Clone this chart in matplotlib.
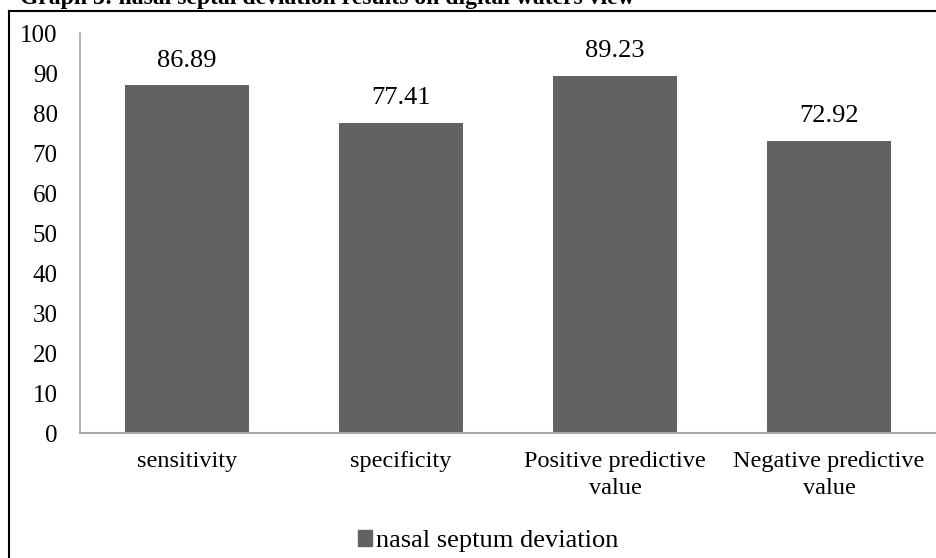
import numpy as np
import matplotlib.pyplot as plt
from matplotlib.lines import Line2D

categories = ['sensitivity', 'specificity', 'Positive predictive\nvalue', 'Negative predictive\nvalue']
values = [86.89, 77.41, 89.23, 72.92]
yticks = [0, 10, 20, 30, 40, 50, 60, 70, 80, 90, 100]
series_name = 'nasal septum deviation'

plt.rcParams['font.family'] = ['Liberation Serif', 'DejaVu Serif']

W, H = 936, 558
fig = plt.figure(figsize=(W / 100, H / 100), dpi=100)

# title, cut off by the top edge as in the source crop
fig.text(20 / W, 1 - 4 / H, 'Graph 3: nasal septal deviation results on digital waters view',
         fontsize=17, fontweight='bold', va='baseline', ha='left')

# outer frame (left and top edges visible)
fig.add_artist(Line2D([9 / W, 9 / W], [0, 1 - 11 / H], color='black', lw=1.5))
fig.add_artist(Line2D([9 / W, 1], [1 - 11 / H, 1 - 11 / H], color='black', lw=1.5))

ax = fig.add_axes([80 / W, 1 - 433 / H, (936 - 80) / W, 400 / H])
x = np.arange(len(categories))
ax.bar(x, values, width=0.575, color='#626262')
for xi, v in zip(x, values):
    ax.annotate(f'{v:.2f}', (xi, v), xytext=(0, 10), textcoords='offset points',
                ha='center', va='bottom', fontsize=19)

ax.set_xlim(-0.5, len(categories) - 0.5)
ax.set_ylim(0, 100)
ax.set_yticks(yticks)
ax.set_xticks(x)
ax.set_xticklabels(categories, fontsize=17.5, linespacing=1.35)
ax.tick_params(axis='y', length=0, labelsize=18, pad=16)
ax.tick_params(axis='x', length=0, pad=13)
for s in ['top', 'right']:
    ax.spines[s].set_visible(False)
ax.spines['left'].set_color('#a6a6a6')
ax.spines['bottom'].set_color('#a6a6a6')
ax.spines['left'].set_linewidth(1.2)
ax.spines['bottom'].set_linewidth(1.5)

fig.legend([plt.Rectangle((0, 0), 1, 1, color='#626262')], [series_name],
           loc='center', bbox_to_anchor=(488 / W, 1 - 541 / H), frameon=False,
           fontsize=19, handlelength=0.55, handleheight=0.55, handletextpad=0.15,
           borderaxespad=0, borderpad=0)

fig.savefig('out.png', dpi=100)
